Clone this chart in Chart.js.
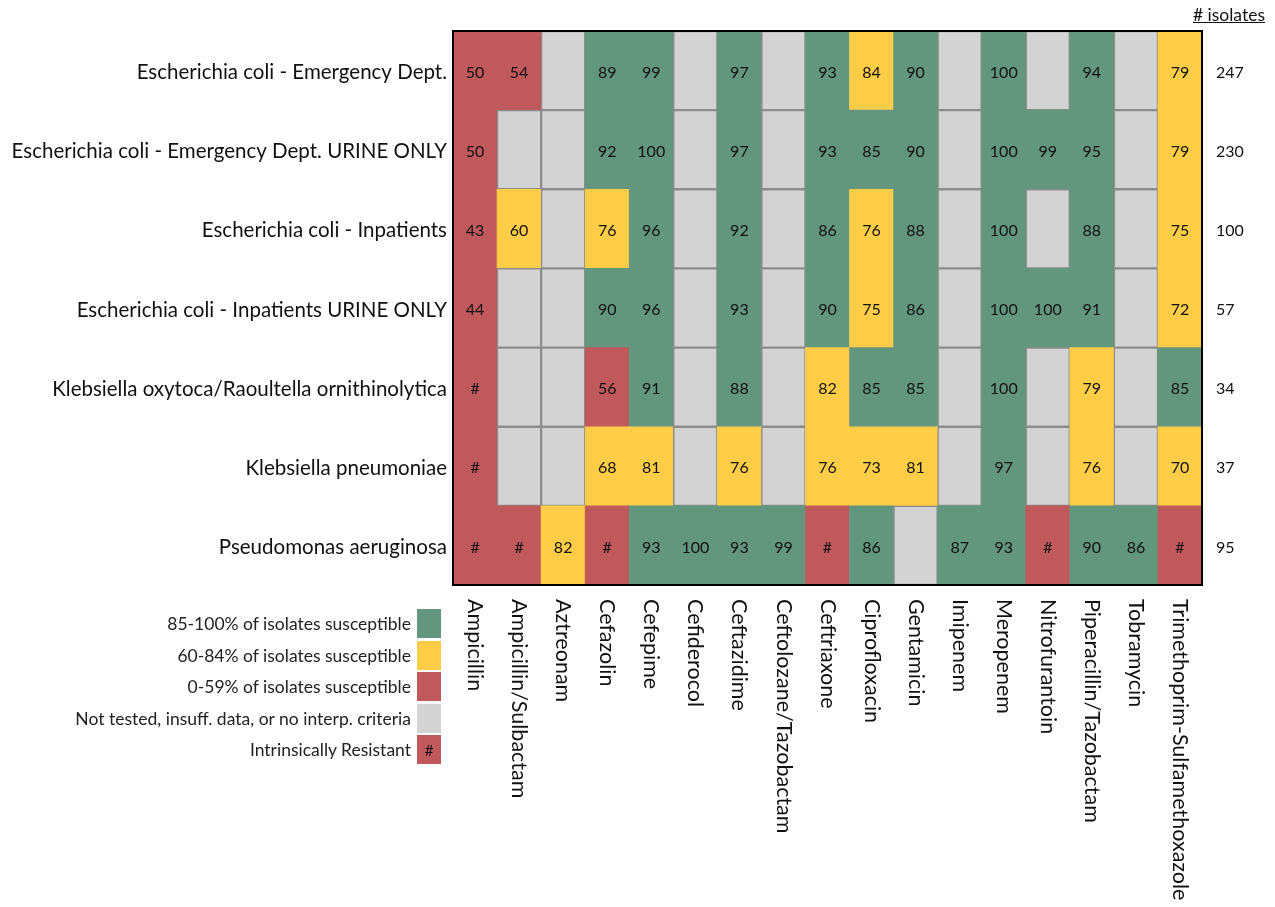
<!DOCTYPE html>
<html>
<head>
<meta charset="utf-8">
<script src="https://cdn.jsdelivr.net/npm/chart.js@4"></script>
<style>
  body { margin: 0; background: #fff; font-family: Lato, sans-serif; }
  #wrap { position: relative; width: 1275px; height: 907px; }
  #legend { position: absolute; left: 0; top: 608px; width: 441px; }
  .leg-row { display: flex; justify-content: flex-end; align-items: center; height: 31.5px; }
  .leg-row span { font-size: 17.5px; color: #222; margin-right: 6px; }
  .leg-row .key { width: 24px; height: 29px; display: flex; align-items: center; justify-content: center; font-size: 15px; color: #111; }
  #isolates { position: absolute; right: 10px; top: 4px; font-size: 17.5px; text-decoration: underline; color: #111; }
</style>
</head>
<body>
<div id="wrap">
  <canvas id="chart" width="1275" height="907"></canvas>
  <div id="isolates"># isolates</div>
  <div id="legend"></div>
</div>
<script>
const antibiotics = ['Ampicillin', 'Ampicillin/Sulbactam', 'Aztreonam', 'Cefazolin', 'Cefepime', 'Cefiderocol',
  'Ceftazidime', 'Ceftolozane/Tazobactam', 'Ceftriaxone', 'Ciprofloxacin', 'Gentamicin', 'Imipenem',
  'Meropenem', 'Nitrofurantoin', 'Piperacillin/Tazobactam', 'Tobramycin', 'Trimethoprim-Sulfamethoxazole'];

const organisms = ['Escherichia coli - Emergency Dept.', 'Escherichia coli - Emergency Dept. URINE ONLY',
  'Escherichia coli - Inpatients', 'Escherichia coli - Inpatients URINE ONLY',
  'Klebsiella oxytoca/Raoultella ornithinolytica', 'Klebsiella pneumoniae', 'Pseudomonas aeruginosa'];

const isolates = [247, 230, 100, 57, 34, 37, 95];

// % susceptible per organism (same order as organisms); null = not tested, '#' = intrinsically resistant
const ecoliED       = [50, 54, null, 89, 99, null, 97, null, 93, 84, 90, null, 100, null, 94, null, 79];
const ecoliEDUrine  = [50, null, null, 92, 100, null, 97, null, 93, 85, 90, null, 100, 99, 95, null, 79];
const ecoliIn       = [43, 60, null, 76, 96, null, 92, null, 86, 76, 88, null, 100, null, 88, null, 75];
const ecoliInUrine  = [44, null, null, 90, 96, null, 93, null, 90, 75, 86, null, 100, 100, 91, null, 72];
const kOxytoca      = ['#', null, null, 56, 91, null, 88, null, 82, 85, 85, null, 100, null, 79, null, 85];
const kPneumoniae   = ['#', null, null, 68, 81, null, 76, null, 76, 73, 81, null, 97, null, 76, null, 70];
const pAeruginosa   = ['#', '#', 82, '#', 93, 100, 93, 99, '#', 86, null, 87, 93, '#', 90, 86, '#'];

const rows = [ecoliED, ecoliEDUrine, ecoliIn, ecoliInUrine, kOxytoca, kPneumoniae, pAeruginosa];

const GREEN = '#62967f', YELLOW = '#fecd48', RED = '#c0595b', GREY = '#d3d3d3', EDGE = '#8c8c8c';

function cellColor(v) {
    if (v === null) return GREY;
    if (v === '#') return RED;
    if (v >= 85) return GREEN;
    if (v >= 60) return YELLOW;
    return RED;
}

// stacked from the bottom, so the last organism goes first
const datasets = rows.map((r, i) => ({
    label: organisms[i],
    cells: r,
    data: r.map(() => 1),
    backgroundColor: r.map(cellColor),
    borderColor: r.map(v => v === null ? EDGE : cellColor(v)),
    borderWidth: r.map(v => v === null ? 1.5 : 0),
    borderSkipped: false
})).reverse();

const legendItems = [
    ['85-100% of isolates susceptible', GREEN, ''],
    ['60-84% of isolates susceptible', YELLOW, ''],
    ['0-59% of isolates susceptible', RED, ''],
    ['Not tested, insuff. data, or no interp. criteria', GREY, ''],
    ['Intrinsically Resistant', RED, '#']
];
const legend = document.getElementById('legend');
legendItems.forEach(([txt, col, mark]) => {
    const row = document.createElement('div');
    row.className = 'leg-row';
    row.innerHTML = `<span>${txt}</span><div class="key" style="background:${col}">${mark}</div>`;
    legend.appendChild(row);
});

const cellText = {
    id: 'cellText',
    afterDatasetsDraw(chart) {
        const ctx = chart.ctx;
        ctx.save();
        ctx.font = '16px Lato';
        ctx.fillStyle = '#111';
        ctx.textAlign = 'center';
        ctx.textBaseline = 'middle';
        chart.data.datasets.forEach((ds, di) => {
            chart.getDatasetMeta(di).data.forEach((bar, i) => {
                const v = ds.cells[i];
                if (v === null) return;
                ctx.fillText(String(v), bar.x, (bar.y + bar.base) / 2 + 2);
            });
        });
        // frame
        const a = chart.chartArea;
        ctx.strokeStyle = '#000';
        ctx.lineWidth = 2;
        ctx.strokeRect(a.left, a.top, a.right - a.left, a.bottom - a.top);
        // rotated antibiotic names
        const xs = chart.scales.x;
        ctx.font = '21.5px Lato';
        ctx.textAlign = 'left';
        antibiotics.forEach((name, i) => {
            ctx.save();
            ctx.translate(xs.getPixelForValue(i), a.bottom + 14);
            ctx.rotate(Math.PI / 2);
            ctx.fillText(name, 0, 0);
            ctx.restore();
        });
        ctx.restore();
    }
};

const halfTicks = scale => { scale.ticks = organisms.map((o, i) => ({ value: i + 0.5 })); };

new Chart(document.getElementById('chart'), {
    type: 'bar',
    data: { labels: antibiotics, datasets: datasets },
    options: {
        responsive: false,
        animation: false,
        layout: { padding: { top: 31, bottom: 322, left: 0, right: 0 } },
        plugins: { legend: { display: false }, tooltip: { enabled: false } },
        datasets: { bar: { barPercentage: 1, categoryPercentage: 1 } },
        scales: {
            x: { stacked: true, display: false },
            y: {
                stacked: true, min: 0, max: 7,
                afterBuildTicks: halfTicks,
                afterFit: s => { s.width = 453; },
                grid: { display: false, drawTicks: false, tickLength: 0 }, border: { display: false },
                ticks: {
                    padding: 6, labelOffset: 2, color: '#111', font: { family: 'Lato', size: 20.5 },
                    callback: v => organisms[6 - Math.floor(v)]
                }
            },
            y2: {
                position: 'right', min: 0, max: 7,
                afterBuildTicks: halfTicks,
                afterFit: s => { s.width = 73; },
                grid: { display: false, drawTicks: false, tickLength: 0 }, border: { display: false },
                ticks: {
                    padding: 14, labelOffset: 2, color: '#111', font: { family: 'Lato', size: 16 },
                    callback: v => isolates[6 - Math.floor(v)]
                }
            }
        }
    },
    plugins: [cellText]
});
</script>
</body>
</html>
